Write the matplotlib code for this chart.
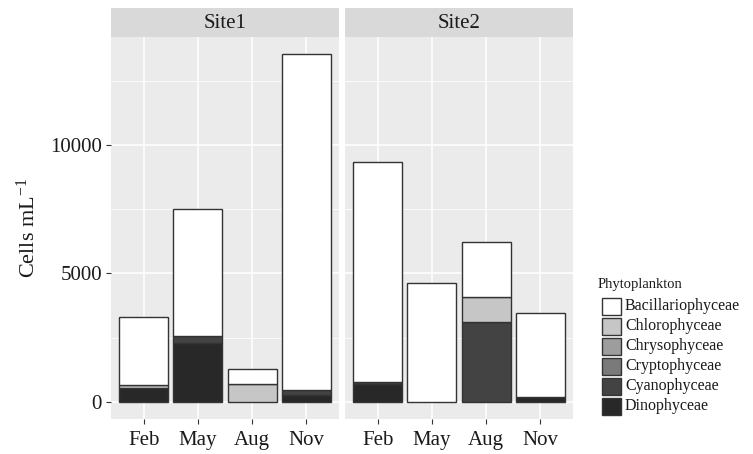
import matplotlib
matplotlib.use("Agg")
import matplotlib.pyplot as plt
from matplotlib.patches import Rectangle
import numpy as np

plt.rcParams['font.family'] = ['Liberation Serif', 'DejaVu Serif']
plt.rcParams['mathtext.fontset'] = 'custom'
plt.rcParams['mathtext.rm'] = 'Liberation Serif'
plt.rcParams['mathtext.it'] = 'Liberation Serif:italic'

months = ["Feb", "May", "Aug", "Nov"]
sites = ["Site1", "Site2"]
groups = ["Bacillariophyceae", "Chlorophyceae", "Chrysophyceae",
          "Cryptophyceae", "Cyanophyceae", "Dinophyceae"]
colors = ["#ffffff", "#c6c6c6", "#9d9d9d", "#7a7a7a", "#434343", "#282828"]

# values per site, per group, in month order
site1 = {
    "Bacillariophyceae": [2680, 4930, 595, 13100],
    "Chlorophyceae":     [110, 0, 680, 0],
    "Chrysophyceae":     [0, 0, 0, 0],
    "Cryptophyceae":     [0, 0, 0, 0],
    "Cyanophyceae":      [0, 300, 0, 200],
    "Dinophyceae":       [520, 2270, 0, 250],
}
site2 = {
    "Bacillariophyceae": [8570, 4630, 2120, 3290],
    "Chlorophyceae":     [0, 0, 990, 0],
    "Chrysophyceae":     [0, 0, 0, 0],
    "Cryptophyceae":     [0, 0, 0, 0],
    "Cyanophyceae":      [90, 0, 3100, 0],
    "Dinophyceae":       [680, 0, 0, 170],
}
data = [site1, site2]

W, H = 753, 454
fig = plt.figure(figsize=(W / 100, H / 100), dpi=100)

def fx(px):
    return px / W

def fy(py):
    return 1 - py / H

panel_lefts = [111, 345]
panel_w = 228
top, bottom = 37, 419
strip_top = 8

totals = [np.sum([d[g] for g in groups], axis=0) for d in data]
ymax = max(t.max() for t in totals)
ylo, yhi = -0.05 * ymax, ymax * 1.05

x = np.arange(1, len(months) + 1)
axes = []
for i, (d, name) in enumerate(zip(data, sites)):
    left = panel_lefts[i]
    ax = fig.add_axes([fx(left), fy(bottom), fx(panel_w), (bottom - top) / H])
    ax.set_facecolor("#ebebeb")
    for s in ax.spines.values():
        s.set_visible(False)
    ax.set_xlim(0.4, 4.6)
    ax.set_ylim(ylo, yhi)
    ax.set_yticks([0, 5000, 10000])
    ax.set_yticks([2500, 7500, 12500], minor=True)
    ax.set_xticks(x)
    ax.set_xticklabels(months)
    ax.grid(True, which="major", color="white", linewidth=1.1)
    ax.grid(True, which="minor", axis="y", color="white", linewidth=0.55)
    ax.set_axisbelow(True)
    ax.tick_params(axis="both", which="major", length=3.5, width=0.8,
                   color="#333333", labelsize=15, labelcolor="#1a1a1a", pad=3)
    ax.tick_params(axis="x", pad=5)
    ax.tick_params(axis="y", which="minor", length=0)
    if i > 0:
        ax.tick_params(axis="y", which="both", left=False, labelleft=False)
    base = np.zeros(len(months))
    for g, c in zip(groups[::-1], colors[::-1]):
        vals = np.array(d[g], dtype=float)
        mask = vals > 0
        ax.bar(x[mask], vals[mask], width=0.9, bottom=base[mask], color=c,
               edgecolor="#333333", linewidth=1.0)
        base += vals
    # strip
    sax = fig.add_axes([fx(left), fy(top), fx(panel_w), (top - strip_top) / H])
    sax.set_facecolor("#d9d9d9")
    sax.set_xticks([])
    sax.set_yticks([])
    for s in sax.spines.values():
        s.set_visible(False)
    sax.text(0.5, 0.47, name, ha="center", va="center", fontsize=15,
             color="#1a1a1a", transform=sax.transAxes)
    axes.append(ax)

axes[0].set_ylabel("Cells mL$^{\\mathregular{-1}}$", fontsize=16, color="#1a1a1a")
axes[0].yaxis.set_label_coords(-(111 - 40) / panel_w, 0.5)

# legend
lax = fig.add_axes([0, 0, 1, 1])
lax.set_xlim(0, W)
lax.set_ylim(H, 0)
lax.axis("off")
lax.text(598, 288, "Phytoplankton", fontsize=10.5, ha="left", va="baseline",
         color="#1a1a1a")
for k, (g, c) in enumerate(zip(groups, colors)):
    y0 = 298 + k * 20
    lax.add_patch(Rectangle((602, y0), 19, 17, facecolor=c,
                            edgecolor="#333333", linewidth=1.0))
    lax.text(625, y0 + 8.5, g, fontsize=11.5, ha="left", va="center",
             color="#1a1a1a")

fig.savefig("out.png", dpi=100)
